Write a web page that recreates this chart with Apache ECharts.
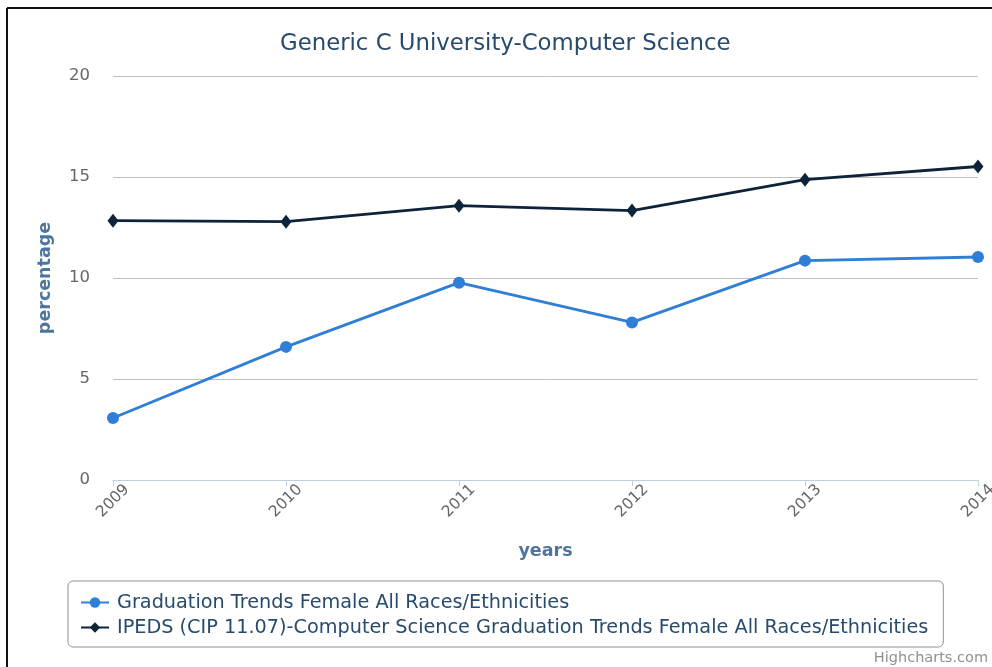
<!DOCTYPE html>
<html>
<head>
<meta charset="utf-8">
<script src="https://cdn.jsdelivr.net/npm/echarts@6/dist/echarts.min.js"></script>
<style>html,body{margin:0;padding:0;background:#fff;}#c{width:992px;height:667px;}</style>
</head>
<body>
<div id="c"></div>
<script>
var years = ['2009', '2010', '2011', '2012', '2013', '2014'];
var seriesNames = ['Graduation Trends Female All Races/Ethnicities', 'IPEDS (CIP 11.07)-Computer Science Graduation Trends Female All Races/Ethnicities'];
var schoolValues = [3.07, 6.59, 9.77, 7.8, 10.86, 11.04];
var ipedsValues = [12.84, 12.79, 13.58, 13.34, 14.87, 15.52];
var yTicks = [0, 5, 10, 15, 20];

var FONT = 'DejaVu Sans';
var chart = echarts.init(document.getElementById('c'), null, {renderer: 'canvas'});
chart.setOption({
  animation: false,
  textStyle: {fontFamily: FONT},
  title: {
    text: 'Generic C University-Computer Science',
    left: 280, top: 33,
    padding: 0,
    textStyle: {fontFamily: FONT, fontSize: 22.8, fontWeight: 'normal', color: '#274b6d'}
  },
  graphic: [
    {type: 'line', shape: {x1: 7, y1: 8, x2: 992, y2: 8}, style: {stroke: '#111', lineWidth: 2}},
    {type: 'line', shape: {x1: 7, y1: 8, x2: 7, y2: 667}, style: {stroke: '#111', lineWidth: 2}},
    {type: 'text', right: 4, bottom: 1, style: {text: 'Highcharts.com', fontFamily: FONT, fontSize: 14.5, fill: '#909090'}}
  ],
  legend: {
    orient: 'vertical',
    left: 68, top: 581,
    padding: [12, 15, 10, 12],
    itemGap: 6,
    itemWidth: 28, itemHeight: 13,
    borderColor: '#909090', borderWidth: 1, borderRadius: 5,
    textStyle: {fontFamily: FONT, fontSize: 19.25, color: '#274b6d', padding: [0, 0, 0, 3]},
    data: seriesNames
  },
  grid: {left: 113, right: 14, top: 76, bottom: 187, containLabel: false, outerBoundsMode: 'none'},
  xAxis: {
    type: 'category',
    data: years,
    boundaryGap: false,
    name: 'years',
    nameLocation: 'middle',
    nameGap: 62,
    nameTextStyle: {fontFamily: FONT, fontSize: 17.5, fontWeight: 'bold', color: '#4d759e'},
    axisLine: {lineStyle: {color: '#C0D0E0', width: 1}},
    axisTick: {show: true, alignWithLabel: true, length: 6, lineStyle: {color: '#C0D0E0'}},
    axisLabel: {rotate: 45, fontFamily: FONT, fontSize: 15.5, color: '#666', margin: 21,
      align: 'center', verticalAlign: 'middle'}
  },
  yAxis: {
    type: 'value',
    min: 0, max: 20, interval: 5,
    name: 'percentage',
    nameLocation: 'middle',
    nameGap: 59,
    nameTextStyle: {fontFamily: FONT, fontSize: 17.5, fontWeight: 'bold', color: '#4d759e'},
    axisLine: {show: false},
    axisTick: {show: false},
    splitLine: {lineStyle: {color: '#C0C0C0', width: 1}},
    axisLabel: {fontFamily: FONT, fontSize: 16.5, color: '#666', margin: 23,
      formatter: function (v) { return yTicks.indexOf(v) >= 0 ? String(v) : ''; }}
  },
  series: [
    {
      name: seriesNames[0], type: 'line', data: schoolValues,
      symbol: 'circle', symbolSize: 12,
      lineStyle: {color: '#2f7ed8', width: 2.8},
      itemStyle: {color: '#2f7ed8'}
    },
    {
      name: seriesNames[1], type: 'line', data: ipedsValues,
      symbol: 'diamond', symbolSize: [11, 14],
      lineStyle: {color: '#0d233a', width: 2.8},
      itemStyle: {color: '#0d233a'}
    }
  ]
});
</script>
</body>
</html>
